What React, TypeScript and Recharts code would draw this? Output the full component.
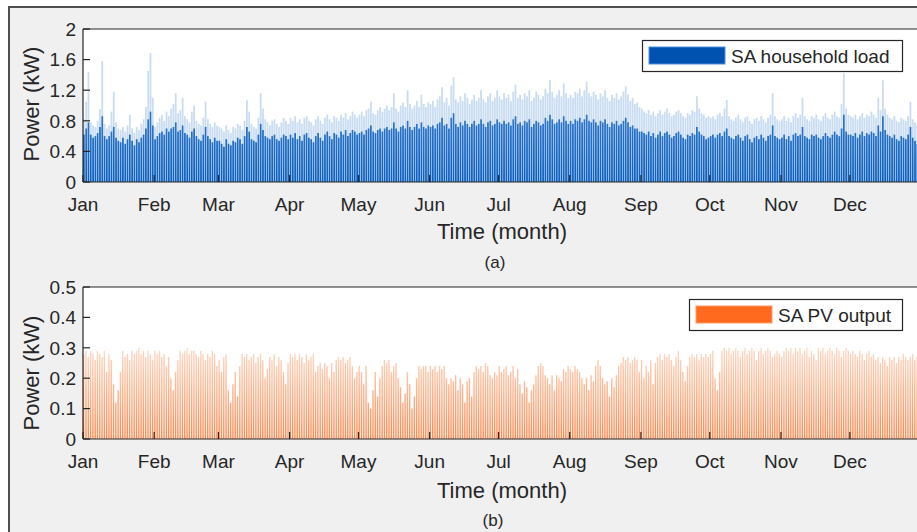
import React from 'react';
import { BarChart, Bar, XAxis, YAxis, CartesianGrid } from 'recharts';

// month ticks (day of year)
const monthStarts = [0, 31, 59, 90, 120, 151, 181, 212, 243, 273, 304, 334];
const monthLabels = ['Jan', 'Feb', 'Mar', 'Apr', 'May', 'Jun', 'Jul', 'Aug', 'Sep', 'Oct', 'Nov', 'Dec'];

const loadTicks = [0, 0.4, 0.8, 1.2, 1.6, 2];
const pvTicks = [0, 0.1, 0.2, 0.3, 0.4, 0.5];

// daily peak of the household load (kW), one row per month
const loadPeak = [
  0.82, 1.05, 1.44, 0.78, 0.74, 0.72, 0.80, 0.95, 1.58, 0.76, 0.70, 0.74, 0.92, 1.18, 0.78, 0.70, 0.68, 0.72, 0.66, 0.74, 0.88, 0.70, 0.64, 0.72, 0.68, 0.76, 0.82, 0.98, 1.45, 1.69, 1.10,
  0.72, 0.78, 0.84, 0.88, 0.80, 0.92, 0.86, 0.96, 1.02, 1.16, 0.90, 0.94, 1.10, 0.86, 0.82, 0.78, 0.92, 1.00, 0.80, 0.76, 0.74, 0.84, 1.05, 0.82, 0.76, 0.72, 0.78, 0.74,
  0.72, 0.70, 0.66, 0.74, 0.68, 0.64, 0.72, 0.70, 0.76, 0.74, 0.68, 0.80, 1.07, 0.92, 0.76, 0.72, 0.70, 0.84, 1.16, 0.96, 0.82, 0.78, 0.74, 0.80, 0.82, 0.76, 0.72, 0.78, 0.84, 0.80, 0.76,
  0.84, 0.80, 0.86, 0.78, 0.82, 0.76, 0.84, 0.86, 0.80, 0.78, 0.74, 0.82, 0.86, 0.80, 0.76, 0.84, 0.88, 0.82, 0.78, 0.86, 0.84, 0.80, 0.88, 0.84, 0.90, 0.82, 0.86, 0.92, 0.88, 0.84,
  0.88, 0.92, 0.86, 0.94, 0.96, 1.05, 0.90, 0.88, 0.94, 0.98, 0.92, 0.96, 1.00, 0.94, 0.98, 1.16, 0.96, 0.92, 1.00, 1.04, 0.98, 1.20, 1.02, 0.96, 1.00, 1.06, 0.98, 1.14, 1.02, 0.98, 1.04,
  1.02, 1.06, 0.98, 1.08, 1.12, 1.24, 1.04, 1.10, 1.00, 1.26, 1.37, 1.08, 1.04, 1.12, 1.06, 1.16, 1.10, 1.02, 1.08, 1.14, 1.06, 1.10, 1.20, 1.08, 1.04, 1.12, 1.16, 1.06, 1.10, 1.20,
  1.12, 1.08, 1.16, 1.10, 1.14, 1.06, 1.18, 1.27, 1.10, 1.14, 1.08, 1.16, 1.12, 1.20, 1.06, 1.10, 1.18, 1.14, 1.08, 1.12, 1.22, 1.16, 1.33, 1.18, 1.10, 1.14, 1.20, 1.12, 1.29, 1.16, 1.10,
  1.14, 1.10, 1.18, 1.16, 1.22, 1.12, 1.20, 1.31, 1.16, 1.12, 1.18, 1.14, 1.08, 1.16, 1.12, 1.20, 1.10, 1.06, 1.14, 1.10, 1.16, 1.08, 1.12, 1.18, 1.25, 1.14, 1.06, 1.10, 1.02, 1.04, 0.98,
  0.96, 0.92, 0.90, 0.94, 0.88, 0.92, 0.86, 0.90, 0.94, 0.88, 0.92, 0.96, 0.90, 0.86, 0.88, 0.92, 0.94, 0.90, 0.86, 0.84, 0.90, 0.88, 0.94, 0.92, 1.12, 0.96, 0.90, 0.88, 0.84, 0.86,
  0.84, 0.86, 0.82, 0.88, 0.90, 0.86, 0.96, 1.07, 0.86, 0.82, 0.80, 0.84, 0.88, 0.82, 0.78, 0.84, 0.86, 0.80, 0.76, 0.82, 0.84, 0.80, 0.86, 0.82, 0.78, 0.84, 0.88, 1.16, 0.86, 0.82, 0.80,
  0.82, 0.86, 0.80, 0.84, 0.78, 0.86, 0.90, 0.84, 0.88, 1.10, 0.86, 0.82, 0.80, 0.86, 0.84, 0.88, 0.82, 0.80, 0.86, 0.90, 0.84, 0.82, 0.88, 0.92, 0.86, 0.84, 1.02, 1.42, 0.96, 0.88,
  0.86, 0.84, 0.88, 0.82, 0.86, 0.90, 0.84, 0.88, 0.86, 0.92, 0.88, 0.84, 1.10, 0.94, 1.33, 0.96, 0.88, 0.84, 0.82, 0.86, 0.80, 0.78, 0.84, 0.82, 0.80, 0.86, 1.05, 0.82, 0.78, 0.74, 0.76,
];

// typical daytime level of the load (kW), the dense dark part
const loadBase = [
  0.62, 0.70, 0.78, 0.62, 0.58, 0.60, 0.64, 0.72, 0.86, 0.60, 0.56, 0.60, 0.66, 0.72, 0.58, 0.54, 0.52, 0.58, 0.50, 0.56, 0.62, 0.54, 0.48, 0.56, 0.52, 0.58, 0.62, 0.70, 0.82, 0.92, 0.74,
  0.56, 0.60, 0.64, 0.66, 0.62, 0.70, 0.66, 0.70, 0.72, 0.78, 0.66, 0.68, 0.74, 0.64, 0.62, 0.58, 0.66, 0.70, 0.60, 0.56, 0.54, 0.62, 0.72, 0.60, 0.56, 0.52, 0.58, 0.54,
  0.54, 0.50, 0.46, 0.56, 0.50, 0.48, 0.54, 0.52, 0.58, 0.56, 0.50, 0.60, 0.72, 0.66, 0.56, 0.54, 0.52, 0.62, 0.76, 0.68, 0.60, 0.58, 0.56, 0.60, 0.62, 0.56, 0.54, 0.58, 0.62, 0.60, 0.56,
  0.62, 0.58, 0.64, 0.56, 0.60, 0.54, 0.62, 0.64, 0.58, 0.56, 0.52, 0.60, 0.64, 0.58, 0.54, 0.62, 0.66, 0.60, 0.56, 0.64, 0.62, 0.58, 0.66, 0.62, 0.68, 0.60, 0.64, 0.68, 0.66, 0.62,
  0.64, 0.66, 0.62, 0.68, 0.70, 0.74, 0.66, 0.64, 0.68, 0.70, 0.66, 0.70, 0.72, 0.68, 0.70, 0.78, 0.70, 0.66, 0.72, 0.74, 0.70, 0.80, 0.72, 0.68, 0.72, 0.76, 0.70, 0.78, 0.72, 0.70, 0.74,
  0.72, 0.74, 0.70, 0.76, 0.78, 0.84, 0.74, 0.76, 0.70, 0.84, 0.90, 0.76, 0.72, 0.78, 0.74, 0.80, 0.76, 0.72, 0.76, 0.80, 0.74, 0.76, 0.82, 0.76, 0.72, 0.78, 0.80, 0.74, 0.76, 0.82,
  0.78, 0.76, 0.80, 0.76, 0.78, 0.74, 0.82, 0.86, 0.76, 0.78, 0.74, 0.80, 0.78, 0.82, 0.72, 0.76, 0.80, 0.78, 0.74, 0.76, 0.84, 0.80, 0.88, 0.82, 0.76, 0.78, 0.82, 0.78, 0.86, 0.80, 0.76,
  0.80, 0.76, 0.82, 0.80, 0.84, 0.78, 0.82, 0.88, 0.80, 0.78, 0.82, 0.78, 0.74, 0.80, 0.78, 0.82, 0.76, 0.72, 0.78, 0.76, 0.80, 0.74, 0.76, 0.80, 0.84, 0.78, 0.72, 0.74, 0.70, 0.70, 0.66,
  0.66, 0.64, 0.62, 0.66, 0.60, 0.64, 0.58, 0.62, 0.66, 0.60, 0.64, 0.66, 0.62, 0.58, 0.60, 0.64, 0.66, 0.62, 0.58, 0.56, 0.62, 0.60, 0.64, 0.62, 0.72, 0.66, 0.62, 0.60, 0.56, 0.58,
  0.60, 0.62, 0.58, 0.62, 0.64, 0.60, 0.66, 0.70, 0.60, 0.58, 0.56, 0.60, 0.62, 0.58, 0.54, 0.60, 0.62, 0.56, 0.52, 0.58, 0.60, 0.56, 0.62, 0.58, 0.54, 0.60, 0.62, 0.74, 0.60, 0.58, 0.56,
  0.58, 0.62, 0.56, 0.60, 0.54, 0.62, 0.64, 0.60, 0.62, 0.72, 0.60, 0.58, 0.56, 0.62, 0.60, 0.62, 0.58, 0.56, 0.60, 0.64, 0.60, 0.58, 0.62, 0.66, 0.62, 0.60, 0.70, 0.88, 0.66, 0.62,
  0.62, 0.60, 0.64, 0.58, 0.62, 0.66, 0.60, 0.64, 0.62, 0.66, 0.64, 0.60, 0.74, 0.66, 0.86, 0.68, 0.62, 0.60, 0.58, 0.62, 0.56, 0.54, 0.60, 0.58, 0.56, 0.62, 0.72, 0.58, 0.54, 0.50, 0.52,
];

// daily peak of the PV output (kW)
const pvPeak = [
  0.28, 0.29, 0.27, 0.29, 0.28, 0.26, 0.29, 0.28, 0.27, 0.29, 0.22, 0.28, 0.26, 0.18, 0.12, 0.16, 0.22, 0.29, 0.27, 0.28, 0.26, 0.29, 0.28, 0.29, 0.30, 0.28, 0.29, 0.27, 0.29, 0.28, 0.26,
  0.29, 0.28, 0.29, 0.27, 0.28, 0.24, 0.27, 0.20, 0.16, 0.22, 0.26, 0.29, 0.28, 0.29, 0.30, 0.28, 0.29, 0.29, 0.28, 0.27, 0.29, 0.28, 0.26, 0.28, 0.27, 0.29, 0.28, 0.24,
  0.26, 0.22, 0.27, 0.28, 0.16, 0.12, 0.18, 0.22, 0.14, 0.24, 0.28, 0.27, 0.28, 0.26, 0.27, 0.28, 0.25, 0.27, 0.28, 0.26, 0.20, 0.23, 0.27, 0.26, 0.28, 0.24, 0.27, 0.26, 0.22, 0.18, 0.25,
  0.28, 0.27, 0.28, 0.26, 0.28, 0.27, 0.25, 0.28, 0.26, 0.27, 0.28, 0.22, 0.24, 0.25, 0.23, 0.25, 0.24, 0.20, 0.25, 0.22, 0.26, 0.27, 0.26, 0.27, 0.25, 0.26, 0.27, 0.24, 0.20, 0.22,
  0.24, 0.22, 0.18, 0.24, 0.12, 0.10, 0.16, 0.22, 0.14, 0.20, 0.24, 0.26, 0.25, 0.26, 0.22, 0.24, 0.25, 0.20, 0.17, 0.12, 0.15, 0.22, 0.18, 0.10, 0.14, 0.20, 0.24, 0.23, 0.24, 0.24, 0.22,
  0.24, 0.23, 0.24, 0.22, 0.24, 0.23, 0.24, 0.20, 0.18, 0.20, 0.19, 0.21, 0.16, 0.20, 0.18, 0.12, 0.19, 0.20, 0.14, 0.22, 0.24, 0.23, 0.24, 0.22, 0.25, 0.24, 0.21, 0.20, 0.22, 0.21,
  0.24, 0.22, 0.23, 0.24, 0.21, 0.22, 0.24, 0.20, 0.23, 0.18, 0.15, 0.19, 0.17, 0.12, 0.16, 0.18, 0.21, 0.24, 0.25, 0.24, 0.21, 0.20, 0.18, 0.21, 0.16, 0.21, 0.20, 0.19, 0.23, 0.22, 0.24,
  0.23, 0.22, 0.24, 0.23, 0.22, 0.20, 0.18, 0.20, 0.16, 0.21, 0.19, 0.24, 0.26, 0.24, 0.20, 0.18, 0.19, 0.14, 0.20, 0.17, 0.21, 0.24, 0.25, 0.27, 0.26, 0.27, 0.25, 0.26, 0.27, 0.26, 0.22,
  0.26, 0.20, 0.24, 0.22, 0.26, 0.18, 0.25, 0.27, 0.28, 0.26, 0.28, 0.27, 0.28, 0.26, 0.24, 0.27, 0.29, 0.26, 0.22, 0.19, 0.24, 0.27, 0.28, 0.27, 0.28, 0.26, 0.28, 0.27, 0.28, 0.27,
  0.28, 0.29, 0.20, 0.16, 0.22, 0.29, 0.30, 0.29, 0.30, 0.28, 0.29, 0.30, 0.29, 0.27, 0.29, 0.30, 0.28, 0.29, 0.30, 0.29, 0.26, 0.29, 0.30, 0.28, 0.29, 0.30, 0.29, 0.27, 0.28, 0.29, 0.28,
  0.27, 0.29, 0.30, 0.29, 0.30, 0.28, 0.30, 0.29, 0.30, 0.28, 0.29, 0.30, 0.27, 0.29, 0.28, 0.26, 0.30, 0.29, 0.30, 0.28, 0.29, 0.30, 0.29, 0.28, 0.30, 0.29, 0.27, 0.29, 0.30, 0.29,
  0.28, 0.29, 0.28, 0.27, 0.29, 0.28, 0.26, 0.28, 0.29, 0.27, 0.28, 0.26, 0.27, 0.25, 0.27, 0.26, 0.24, 0.27, 0.26, 0.27, 0.25, 0.27, 0.26, 0.28, 0.27, 0.26, 0.27, 0.28, 0.26, 0.27, 0.28,
];

const loadData = loadPeak.map((p, i) => ({ day: i + 0.5, base: loadBase[i], extra: p - loadBase[i] }));
const pvData = pvPeak.map((p, i) => ({ day: i + 0.5, pv: p }));

const AXIS = '#262626';
const FONT = '"Liberation Sans", Arial, Helvetica, sans-serif';
const BLUE = '#0b5fbf';
const ORANGE = '#ff6a1f';

const CHART_W = 940;
const margin = { top: 28, right: 9, left: 33, bottom: 18 };

const monthName = (v: number) => monthLabels[monthStarts.indexOf(v)] ?? '';

function axes(yMax: number, yTicks: number[]) {
  return [
    <XAxis
      key="xb"
      xAxisId="b"
      dataKey="day"
      type="number"
      domain={[0, 365]}
      ticks={monthStarts}
      interval={0}
      tickFormatter={monthName}
      height={30}
      tickSize={-7}
      tickMargin={23}
      allowDataOverflow
      axisLine={{ stroke: AXIS, strokeWidth: 1.2 }}
      tickLine={{ stroke: AXIS, strokeWidth: 1.2 }}
      tick={{ fill: AXIS, fontSize: 19, fontFamily: FONT }}
    />,
    <XAxis
      key="xt"
      xAxisId="t"
      orientation="top"
      dataKey="day"
      type="number"
      domain={[0, 365]}
      ticks={monthStarts}
      interval={0}
      height={1}
      tickSize={-7}
      tick={false}
      allowDataOverflow
      axisLine={{ stroke: AXIS, strokeWidth: 1.2 }}
      tickLine={{ stroke: AXIS, strokeWidth: 1.2 }}
    />,
    <YAxis
      key="yl"
      yAxisId="l"
      type="number"
      domain={[0, yMax]}
      ticks={yTicks}
      interval={0}
      width={50}
      tickSize={-7}
      tickMargin={14}
      allowDataOverflow
      axisLine={{ stroke: AXIS, strokeWidth: 1.2 }}
      tickLine={{ stroke: AXIS, strokeWidth: 1.2 }}
      tick={{ fill: AXIS, fontSize: 19, fontFamily: FONT }}
    />,
    <YAxis
      key="yr"
      yAxisId="r"
      orientation="right"
      type="number"
      domain={[0, yMax]}
      ticks={yTicks}
      interval={0}
      width={10}
      tickSize={-7}
      tick={false}
      allowDataOverflow
      axisLine={{ stroke: AXIS, strokeWidth: 1.2 }}
      tickLine={{ stroke: AXIS, strokeWidth: 1.2 }}
    />,
  ];
}

const LoadChart = () => (
  <BarChart width={CHART_W} height={230} data={loadData} margin={margin} barGap={0} barCategoryGap={0}>
    <defs>
      {/* dense colour near the axis, fading towards the daily peaks */}
      <linearGradient id="loadFill" gradientUnits="userSpaceOnUse" x1="0" y1="29" x2="0" y2="182">
        <stop offset="35%" stopColor={BLUE} stopOpacity={0.55} />
        <stop offset="55%" stopColor={BLUE} stopOpacity={0.85} />
        <stop offset="100%" stopColor={BLUE} stopOpacity={1} />
      </linearGradient>
    </defs>
    <CartesianGrid xAxisId="b" yAxisId="l" fill="#ffffff" stroke="none" horizontal={false} vertical={false} />
    {axes(2, loadTicks)}
    <Bar xAxisId="b" yAxisId="l" dataKey="base" stackId="s" fill="url(#loadFill)" barSize={1.8} isAnimationActive={false} />
    <Bar xAxisId="b" yAxisId="l" dataKey="extra" stackId="s" fill={BLUE} fillOpacity={0.22} barSize={1.8} isAnimationActive={false} />
  </BarChart>
);

const PvChart = () => (
  <BarChart width={CHART_W} height={229} data={pvData} margin={margin} barGap={0} barCategoryGap={0}>
    <defs>
      <linearGradient id="pvFill" gradientUnits="userSpaceOnUse" x1="0" y1="29" x2="0" y2="181">
        <stop offset="0%" stopColor={ORANGE} stopOpacity={0.15} />
        <stop offset="40%" stopColor={ORANGE} stopOpacity={0.25} />
        <stop offset="100%" stopColor={ORANGE} stopOpacity={0.8} />
      </linearGradient>
    </defs>
    <CartesianGrid xAxisId="b" yAxisId="l" fill="#ffffff" stroke="none" horizontal={false} vertical={false} />
    {axes(0.5, pvTicks)}
    <Bar xAxisId="b" yAxisId="l" dataKey="pv" fill="url(#pvFill)" barSize={1.4} isAnimationActive={false} />
  </BarChart>
);

const txt = { fill: AXIS, fontFamily: FONT } as const;

export default function App() {
  return (
    <div style={{ position: 'absolute', left: 0, top: 0, width: 917, height: 532, overflow: 'hidden', background: '#fff' }}>
      <div
        style={{
          position: 'absolute',
          left: 8,
          top: 6,
          width: 930,
          height: 540,
          background: '#f0f0f0',
          borderLeft: '2px solid #505050',
          borderTop: '2px solid #505050',
        }}
      />
      <div style={{ position: 'absolute', left: 0, top: 0 }}>
        <LoadChart />
      </div>
      <div style={{ position: 'absolute', left: 0, top: 258 }}>
        <PvChart />
      </div>
      <svg width={917} height={532} style={{ position: 'absolute', left: 0, top: 0, pointerEvents: 'none' }}>
        {/* panel (a) labels */}
        <text {...txt} fontSize={22} textAnchor="middle" dominantBaseline="central" transform="translate(31,104) rotate(-90)">
          Power (kW)
        </text>
        <text {...txt} fontSize={22} x={502} y={239} textAnchor="middle">Time (month)</text>
        <text {...txt} fontSize={17} x={495} y={268} textAnchor="middle">(a)</text>
        <rect x={642.5} y={40.5} width={260} height={31} fill="#fff" stroke={AXIS} strokeWidth={1.2} />
        <rect x={649} y={47} width={76} height={17} fill="#0052b0" stroke="#4d8fd8" strokeWidth={1} />
        <text {...txt} fontSize={19} x={731} y={62.5}>SA household load</text>

        {/* panel (b) labels */}
        <text {...txt} fontSize={22} textAnchor="middle" dominantBaseline="central" transform="translate(31,373) rotate(-90)">
          Power (kW)
        </text>
        <text {...txt} fontSize={22} x={502} y={498} textAnchor="middle">Time (month)</text>
        <text {...txt} fontSize={17} x={493} y={526} textAnchor="middle">(b)</text>
        <rect x={689.5} y={299.5} width={213} height={31} fill="#fff" stroke={AXIS} strokeWidth={1.2} />
        <rect x={696} y={306} width={76} height={17} fill={ORANGE} stroke="#ff9a66" strokeWidth={1} />
        <text {...txt} fontSize={19} x={778} y={321.5}>SA PV output</text>
      </svg>
    </div>
  );
}
